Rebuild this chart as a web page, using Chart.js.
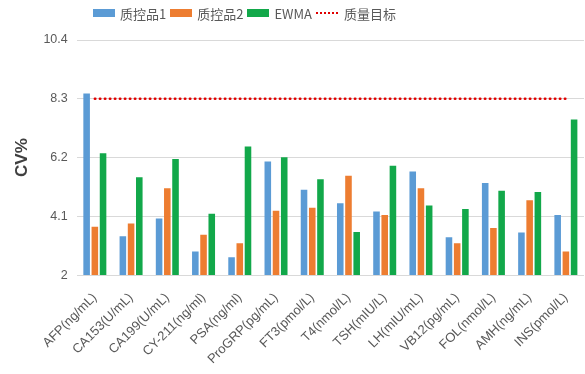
<!DOCTYPE html>
<html>
<head>
<meta charset="utf-8">
<script src="https://cdn.jsdelivr.net/npm/chart.js@4/dist/chart.umd.min.js"></script>
<style>
  body { margin: 0; background: #fff; }
  #wrap { position: relative; width: 585px; height: 374px; }
  #legend {
    position: absolute; top: 4px; left: 93px; height: 18px;
    display: flex; align-items: center;
    font-family: "Noto Sans CJK SC", "Liberation Sans", sans-serif;
    font-size: 13px; color: #595959;
  }
  #legend span.sw { display: inline-block; width: 22px; height: 8px; margin-right: 5px; }
  #legend span.item { display: inline-flex; align-items: center; margin-right: 4px; }
  #legend span.dots { display: inline-block; width: 22px; height: 0; border-top: 2.5px dotted #e00000; margin-right: 6px; }
</style>
</head>
<body>
<div id="wrap">
  <canvas id="chart" width="585" height="374"></canvas>
  <div id="legend">
    <span class="item"><span class="sw" style="background:#5b9bd5"></span>质控品1</span>
    <span class="item"><span class="sw" style="background:#ed7d31"></span>质控品2</span>
    <span class="item"><span class="sw" style="background:#12a84a"></span>EWMA</span>
    <span class="item"><span class="dots"></span>质量目标</span>
  </div>
</div>
<script>
const categories = ['AFP(ng/mL)', 'CA153(U/mL)', 'CA199(U/mL)', 'CY-211(ng/ml)', 'PSA(ng/ml)',
  'ProGRP(pg/mL)', 'FT3(pmol/L)', 'T4(nmol/L)', 'TSH(mIU/L)', 'LH(mIU/mL)', 'VB12(pg/mL)',
  'FOL(nmol/L)', 'AMH(ng/mL)', 'INS(pmol/L)'];
const qc1 = [8.49, 3.39, 4.02, 2.84, 2.64, 6.06, 5.05, 4.57, 4.27, 5.70, 3.35, 5.29, 3.52, 4.15];
const qc2 = [3.73, 3.84, 5.10, 3.44, 3.14, 4.30, 4.41, 5.55, 4.15, 5.10, 3.14, 3.68, 4.67, 2.84];
const ewma = [6.35, 5.50, 6.15, 4.19, 6.59, 6.21, 5.42, 3.54, 5.91, 4.49, 4.36, 5.01, 4.97, 7.56];
const qualityTarget = 8.3;
const yTicks = [2, 4.1, 6.2, 8.3, 10.4];

const bar = { categoryPercentage: 0.68, barPercentage: 0.8, order: 2 };

new Chart(document.getElementById('chart').getContext('2d'), {
  data: {
    labels: categories,
    datasets: [
      { type: 'line', label: '质量目标', data: categories.map(() => qualityTarget),
        borderColor: '#e00000', borderWidth: 2.5, borderDash: [0.5, 4.5], borderCapStyle: 'round',
        pointRadius: 0, fill: false, order: 0 },
      { type: 'bar', label: '质控品1', data: qc1, backgroundColor: '#5b9bd5', ...bar },
      { type: 'bar', label: '质控品2', data: qc2, backgroundColor: '#ed7d31', ...bar },
      { type: 'bar', label: 'EWMA', data: ewma, backgroundColor: '#12a84a', ...bar }
    ]
  },
  options: {
    responsive: false,
    animation: false,
    layout: { padding: { top: 40, left: 8, right: 1, bottom: 0 } },
    plugins: { legend: { display: false }, tooltip: { enabled: false } },
    scales: {
      x: {
        offset: true,
        grid: { display: false },
        border: { display: false },
        ticks: {
          minRotation: 45, maxRotation: 45, autoSkip: false, padding: 7,
          color: '#595959', font: { family: 'Liberation Sans', size: 13 }
        }
      },
      y: {
        min: 2, max: 10.4,
        afterBuildTicks: (axis) => { axis.ticks = yTicks.map(v => ({ value: v })); },
        grid: { color: '#d9d9d9', drawTicks: false },
        border: { display: false },
        ticks: { padding: 9, color: '#595959', font: { family: 'Liberation Sans', size: 12.5 },
          callback: (v) => String(v) },
        title: { display: true, text: 'CV%', color: '#404040',
          font: { family: 'Liberation Sans', size: 17, weight: 'bold' }, padding: { bottom: 2 } }
      }
    }
  }
});
</script>
</body>
</html>
